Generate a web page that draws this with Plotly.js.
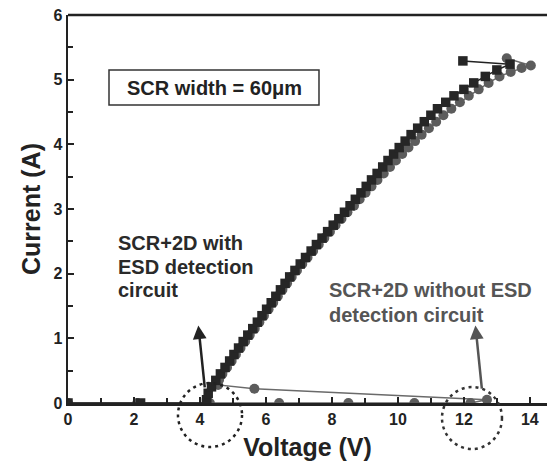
<!DOCTYPE html>
<html><head><meta charset="utf-8">
<script src="https://cdn.plot.ly/plotly-3.0.1.min.js"></script>
<style>html,body{margin:0;padding:0;background:#fff;}#chart{width:547px;height:466px;}</style>
</head><body><div id="chart"></div>
<script>
// SCR+2D with ESD detection circuit (squares)
const withV = [0, 2.2, 4.2, 4.2, 4.25, 4.35, 4.48, 4.62, 4.76, 4.9,
  5.03, 5.17, 5.31, 5.45, 5.6, 5.74, 5.88, 6.02, 6.16, 6.3,
  6.44, 6.58, 6.72, 6.88, 7.04, 7.2, 7.37, 7.53, 7.7, 7.87,
  8.04, 8.21, 8.38, 8.55, 8.71, 8.88, 9.04, 9.2, 9.37, 9.54,
  9.7, 9.87, 10.04, 10.22, 10.4, 10.6, 10.8, 11.0, 11.2, 11.45,
  11.7, 12.0, 12.3, 12.65, 13.0, 13.4, 11.97];
const withI = [0, 0, 0, 0.05, 0.15, 0.25, 0.35, 0.45, 0.55, 0.65,
  0.75, 0.85, 0.95, 1.05, 1.15, 1.25, 1.35, 1.45, 1.55, 1.65,
  1.75, 1.85, 1.95, 2.05, 2.15, 2.25, 2.35, 2.45, 2.55, 2.65,
  2.75, 2.85, 2.95, 3.05, 3.15, 3.25, 3.35, 3.45, 3.55, 3.65,
  3.75, 3.85, 3.95, 4.05, 4.15, 4.25, 4.35, 4.45, 4.55, 4.65,
  4.75, 4.85, 4.95, 5.05, 5.15, 5.24, 5.29];
// SCR+2D without ESD detection circuit (circles)
const withoutV = [0, 2.1, 4.3, 6.4, 8.5, 10.5, 12.2, 12.7, 5.65, 4.55,
  4.58, 4.68, 4.82, 4.96, 5.09, 5.23, 5.37, 5.51, 5.66, 5.8,
  5.94, 6.08, 6.22, 6.36, 6.5, 6.64, 6.78, 6.94, 7.1, 7.26,
  7.43, 7.6, 7.77, 7.94, 8.11, 8.29, 8.47, 8.67, 8.84, 9.02,
  9.2, 9.38, 9.57, 9.76, 9.94, 10.13, 10.32, 10.52, 10.72, 10.94,
  11.16, 11.38, 11.62, 11.88, 12.15, 12.45, 12.75, 13.08, 13.42, 13.75,
  14.03, 13.3];
const withoutI = [0, 0, 0, 0, 0, 0, 0, 0.05, 0.22, 0.28,
  0.36, 0.45, 0.55, 0.65, 0.75, 0.85, 0.95, 1.05, 1.15, 1.25,
  1.35, 1.45, 1.55, 1.65, 1.75, 1.85, 1.95, 2.05, 2.15, 2.25,
  2.35, 2.45, 2.55, 2.65, 2.75, 2.85, 2.95, 3.05, 3.15, 3.25,
  3.35, 3.45, 3.55, 3.65, 3.75, 3.85, 3.95, 4.05, 4.15, 4.25,
  4.35, 4.45, 4.55, 4.65, 4.75, 4.85, 4.95, 5.05, 5.12, 5.18,
  5.22, 5.33];
const xTicks = [0, 2, 4, 6, 8, 10, 12, 14];
const yTicks = [0, 1, 2, 3, 4, 5, 6];
const xLabel = 'Voltage (V)';
const yLabel = 'Current (A)';
const boxText = 'SCR width = 60\u03bcm';
const labelWith = ['SCR+2D with', 'ESD detection', 'circuit'];
const labelWithout = ['SCR+2D without ESD', 'detection circuit'];

const FONT = 'Liberation Sans, Arial, Helvetica, sans-serif';
const AX = '#222';

const traces = [
  {x: withoutV, y: withoutI, mode: 'lines+markers', type: 'scatter',
   line: {color: '#6a6a6a', width: 1.5},
   marker: {symbol: 'circle', size: 10, color: '#5c5c5c'}},
  {x: withV, y: withI, mode: 'lines+markers', type: 'scatter',
   line: {color: '#222', width: 1.5},
   marker: {symbol: 'square', size: 9.5, color: '#262626'}}
];

const axisCommon = {
  showgrid: false, zeroline: false, showline: true, linewidth: 2.5, linecolor: AX,
  ticks: 'inside', ticklen: 6, tickwidth: 2, tickcolor: AX,
  tickfont: {family: FONT, size: 16, color: AX, weight: 700}
};

const ann = [];
const withY = [0.4124, 0.3505, 0.2912];
labelWith.forEach((t, i) => ann.push({xref: 'paper', yref: 'paper', x: 0.1, y: withY[i], text: t,
  showarrow: false, xanchor: 'left', yanchor: 'middle',
  font: {family: FONT, size: 20, color: '#2a2a2a', weight: 700}}));
const withoutY = [0.2912, 0.2268];
labelWithout.forEach((t, i) => ann.push({xref: 'paper', yref: 'paper', x: 0.541, y: withoutY[i], text: t,
  showarrow: false, xanchor: 'left', yanchor: 'middle',
  font: {family: FONT, size: 20, color: '#555', weight: 700}}));
ann.push({xref: 'paper', yref: 'paper', x: 0.305, y: 0.812, text: boxText, showarrow: false,
  xanchor: 'center', yanchor: 'middle',
  font: {family: FONT, size: 20, color: '#222', weight: 700}});
ann.push({x: 3.95, y: 1.2, ax: 4.15, ay: 0.22, axref: 'x', ayref: 'y', xref: 'x', yref: 'y',
  text: '', showarrow: true, arrowhead: 2, arrowsize: 1.1, arrowwidth: 2.5, arrowcolor: '#222'});
ann.push({x: 12.35, y: 1.2, ax: 12.55, ay: 0.2, axref: 'x', ayref: 'y', xref: 'x', yref: 'y',
  text: '', showarrow: true, arrowhead: 2, arrowsize: 1.1, arrowwidth: 2.5, arrowcolor: '#555'});

const layout = {
  width: 547, height: 466,
  margin: {l: 68, r: 0, t: 15, b: 63},
  paper_bgcolor: '#fff', plot_bgcolor: '#fff',
  showlegend: false,
  xaxis: Object.assign({}, axisCommon, {
    range: [0, 14.52], tickmode: 'array', tickvals: xTicks, ticktext: xTicks.map(String),
    minor: {dtick: 1, tick0: 0, ticks: 'inside', ticklen: 5, tickwidth: 2, tickcolor: AX},
    title: {text: xLabel, standoff: 12, font: {family: FONT, size: 25, color: AX, weight: 700}}
  }),
  yaxis: Object.assign({}, axisCommon, {
    range: [0, 6], tickmode: 'array', tickvals: yTicks, ticktext: yTicks.map(String),
    minor: {dtick: 0.5, tick0: 0, ticks: 'inside', ticklen: 5, tickwidth: 2, tickcolor: AX},
    title: {text: yLabel, standoff: 6, font: {family: FONT, size: 25, color: AX, weight: 700}}
  }),
  shapes: [
    {type: 'line', xref: 'paper', yref: 'paper', x0: 0, x1: 1, y0: 1, y1: 1,
     line: {color: AX, width: 2.5}},
    {type: 'rect', xref: 'paper', yref: 'paper', x0: 0.0856, x1: 0.524, y0: 0.768, y1: 0.858,
     line: {color: '#333', width: 1.5}},
    {type: 'circle', xref: 'paper', yref: 'paper', x0: 0.2296, x1: 0.3633, y0: -0.1134, y1: 0.0515,
     line: {color: '#222', width: 2.5, dash: '3px,4px'}},
    {type: 'circle', xref: 'paper', yref: 'paper', x0: 0.7808, x1: 0.906, y0: -0.1186, y1: 0.0412,
     line: {color: '#333', width: 2.5, dash: '3px,4px'}}
  ],
  annotations: ann
};

Plotly.newPlot('chart', traces, layout, {staticPlot: true, displayModeBar: false});
</script>
</body></html>
